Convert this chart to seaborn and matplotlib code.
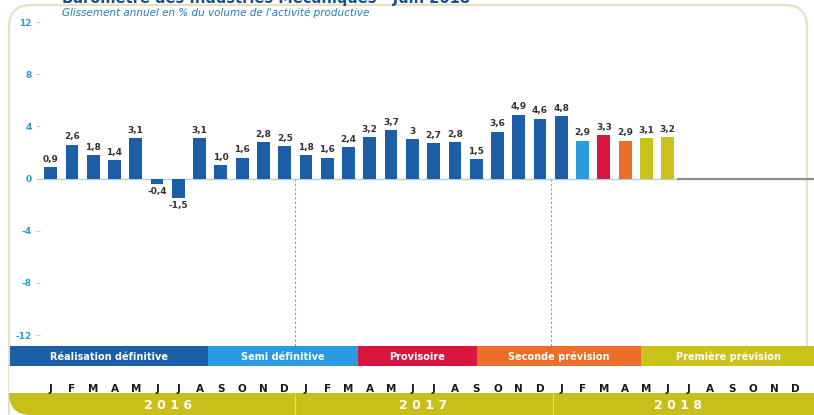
import seaborn as sns
import matplotlib.pyplot as plt
import matplotlib.transforms as mtransforms
from matplotlib.patches import FancyBboxPatch, Rectangle
import pandas as pd

# data (Jan 2016 -> Jun 2018)
values = [0.9, 2.6, 1.8, 1.4, 3.1, -0.4, -1.5, 3.1, 1.0, 1.6, 2.8, 2.5,
          1.8, 1.6, 2.4, 3.2, 3.7, 3.0, 2.7, 2.8, 1.5, 3.6, 4.9, 4.6,
          4.8, 2.9, 3.3, 2.9, 3.1, 3.2]
value_labels = ['0,9', '2,6', '1,8', '1,4', '3,1', '-0,4', '-1,5', '3,1', '1,0', '1,6', '2,8', '2,5',
                '1,8', '1,6', '2,4', '3,2', '3,7', '3', '2,7', '2,8', '1,5', '3,6', '4,9', '4,6',
                '4,8', '2,9', '3,3', '2,9', '3,1', '3,2']
phases = ['Réalisation définitive'] * 25 + ['Semi définitive', 'Provisoire', 'Seconde prévision',
                                             'Première prévision', 'Première prévision']
months = ['J', 'F', 'M', 'A', 'M', 'J', 'J', 'A', 'S', 'O', 'N', 'D']
years = ['2016', '2017', '2018']

phase_colors = {'Réalisation définitive': '#1d5ea8', 'Semi définitive': '#2b9be0',
                'Provisoire': '#d8163f', 'Seconde prévision': '#ec6e2b',
                'Première prévision': '#cbc21c'}
olive = '#c9bf1a'

all_keys = [f'{y}-{m:02d}' for y in years for m in range(1, 13)]
df = pd.DataFrame({'mois': all_keys[:len(values)], 'val': values, 'phase': phases})

W, H = 814, 415
fig = plt.figure(figsize=(W / 100, H / 100), dpi=100)
fam = ['Liberation Sans Narrow', 'DejaVu Sans']

# background layer in pixel coordinates
bg = fig.add_axes([0, 0, 1, 1], zorder=0)
bg.set_xlim(0, W)
bg.set_ylim(H, 0)
bg.axis('off')
bg.add_patch(FancyBboxPatch((9, 5), 798, 440, boxstyle='round,pad=0,rounding_size=22',
                            fc='white', ec='#e6e1c4', lw=1.6))
bg.add_patch(FancyBboxPatch((9, 350), 805, 65, boxstyle='round,pad=0,rounding_size=22',
                            fc=olive, ec='none'))
bg.add_patch(Rectangle((780, 350), 34, 65, fc=olive, ec='none'))
bg.add_patch(Rectangle((9, 366), 805, 27, fc='white', ec='none'))

# phase band
band_edges = [10, 208, 358, 477, 641, 814]
for (x0, x1), name in zip(zip(band_edges[:-1], band_edges[1:]), phase_colors):
    bg.add_patch(Rectangle((x0, 346), x1 - x0, 20, fc=phase_colors[name], ec='none'))
    cx = (x0 + x1) / 2 if name != 'Première prévision' else 728
    bg.text(cx, 356.5, name, color='white', fontsize=7, fontweight='bold',
            ha='center', va='center', family=fam)
for px in [295, 553]:
    bg.plot([px, px], [393, 415], color='#ddd78a', lw=0.8)

# title (cut at the top edge, as in the source scan)
fig.text(62 / W, 1 + 1.5 / H, 'Baromètre des Industries Mécaniques - Juin 2018', fontsize=10.5,
         fontweight='bold', color='#1b4f8d', va='center', ha='left', family=fam)
fig.text(62 / W, 1 - 12.5 / H, "Glissement annuel en % du volume de l'activité productive",
         fontsize=7.5, style='italic', color='#2a78c0', va='center', ha='left', family=fam)

# main chart
ax = fig.add_axes([40 / W, (H - 335) / H, 766 / W, 313 / H], zorder=2)
ax.patch.set_alpha(0)
sns.barplot(data=df, x='mois', y='val', hue='phase', order=all_keys, palette=phase_colors,
            dodge=False, width=0.6, saturation=1, legend=False, ax=ax, zorder=3)
ax.set_xlim(-0.5, 35.5)
ax.set_ylim(-12, 12)
for s in ax.spines.values():
    s.set_visible(False)
ax.set_xlabel('')
ax.set_ylabel('')

ax.set_yticks([-12, -8, -4, 0, 4, 8, 12])
ax.set_yticklabels(['-12', '-8', '-4', '0', '4', '8', '12'])
ax.tick_params(axis='y', length=3, color='#cccccc', pad=3, labelsize=6.5, labelcolor='#2a9fcf')
for t in ax.get_yticklabels():
    t.set_fontweight('bold')

ax.set_xticks(range(len(all_keys)))
ax.set_xticklabels(months * len(years))
ax.tick_params(axis='x', length=0, pad=35, labelsize=7.5)
for t in ax.get_xticklabels():
    t.set_fontweight('bold')
    t.set_color('#1a1a1a')

# zero line
n = len(values)
ax.plot([-0.5, n - 0.5], [0, 0], color='#b7cde0', lw=1, zorder=2)
ax.plot([n - 0.5, 35.9], [0, 0], color='#8f8f8f', lw=1.6, zorder=2, clip_on=False)

# year separators
for xs in [11.5, 23.5]:
    ax.plot([xs, xs], [0, -12.9], color='#9a9a9a', lw=0.8, ls=(0, (2, 2)), clip_on=False, zorder=1)

# value labels
for i, (v, lab) in enumerate(zip(values, value_labels)):
    if v >= 0:
        ax.text(i, v + 0.25, lab, ha='center', va='bottom', fontsize=6.5, fontweight='bold',
                color='#333333', family=fam)
    else:
        ax.text(i, v - 0.25, lab, ha='center', va='top', fontsize=6.5, fontweight='bold',
                color='#333333', family=fam)

# year labels in the olive band
trans = mtransforms.blended_transform_factory(ax.transData, fig.transFigure)
for k, y in enumerate(years):
    ax.text(k * 12 + 5.5, 1 - 405 / H, ' '.join(y), transform=trans, ha='center', va='center',
            fontsize=9, fontweight='bold', color='white', clip_on=False)

fig.savefig('out.png', dpi=100)
